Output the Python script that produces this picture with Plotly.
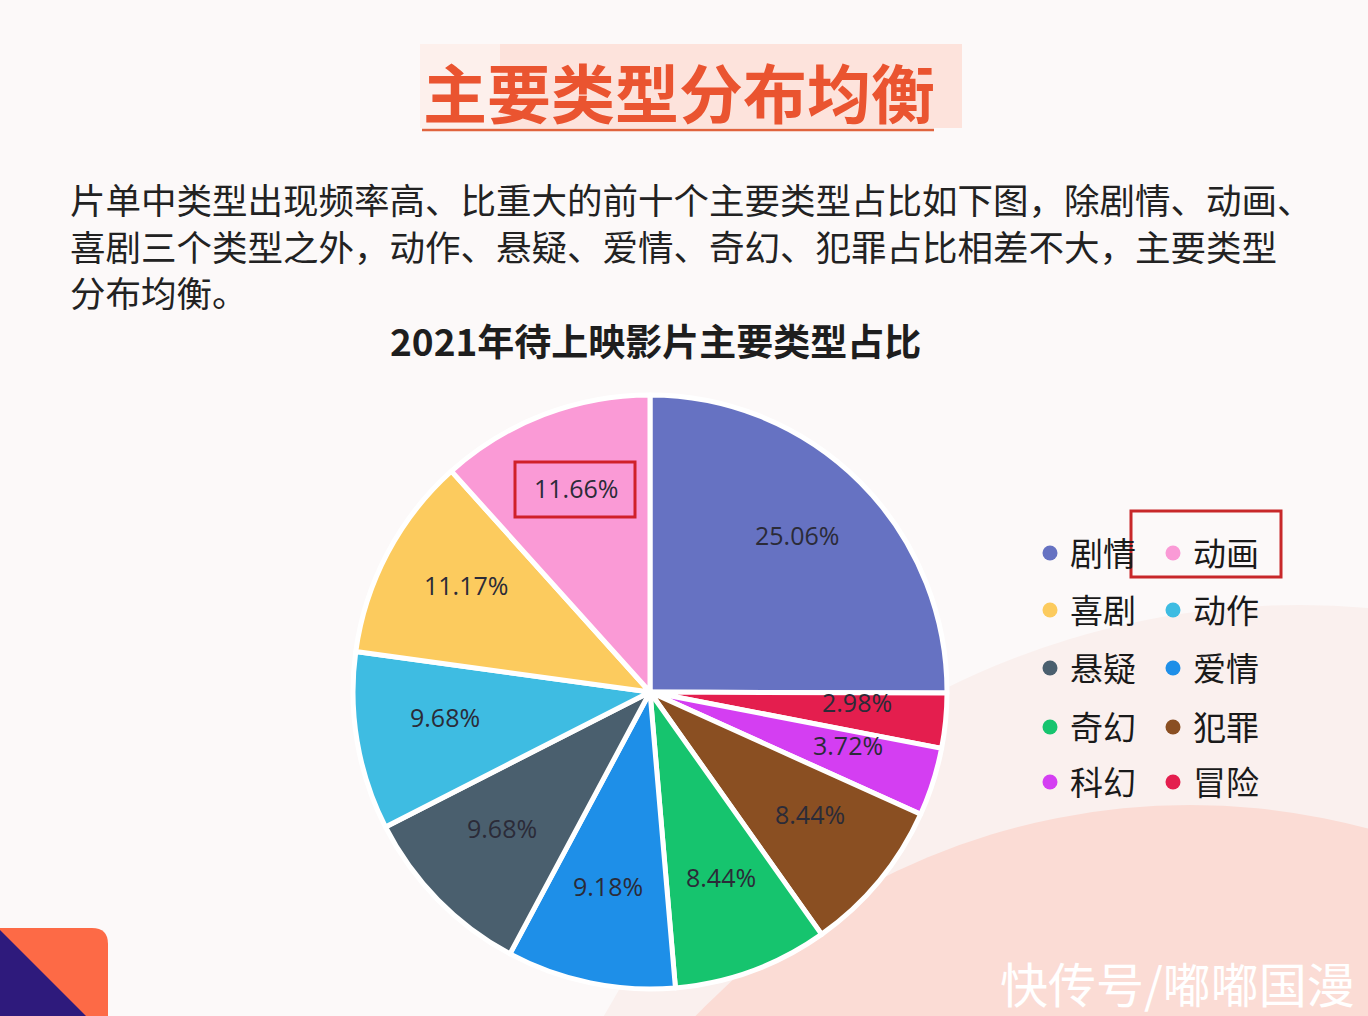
import math
import plotly.graph_objects as go

W, H = 1368, 1016

genres = ["剧情", "动画", "喜剧", "动作", "悬疑", "爱情", "奇幻", "犯罪", "科幻", "冒险"]
shares = [25.06, 11.66, 11.17, 9.68, 9.68, 9.18, 8.44, 8.44, 3.72, 2.98]
colors = ["#6672c2", "#fa9ad6", "#fccb5e", "#3ebce2", "#4a5f6e",
          "#1e8fe8", "#16c46e", "#8a4f22", "#d43ef2", "#e41e4e"]

heading = "主要类型分布均衡"
para_lines = [
    "片单中类型出现频率高、比重大的前十个主要类型占比如下图，除剧情、动画、",
    "喜剧三个类型之外，动作、悬疑、爱情、奇幻、犯罪占比相差不大，主要类型",
    "分布均衡。",
]
chart_title = "2021年待上映影片主要类型占比"
watermark = "快传号/嘟嘟国漫"

CJK = "Noto Sans CJK SC"


def px(x):
    return x / W


def py(y):
    return 1 - y / H


fig = go.Figure()

# pie drawn clockwise from 12 o'clock: 剧情 first, then the rest in reverse legend order
order = [0] + list(range(len(genres) - 1, 0, -1))
p_labels = [genres[i] for i in order]
p_values = [shares[i] for i in order]
p_colors = [colors[i] for i in order]

cx, cy, r = 650, 692, 297
fig.add_trace(go.Pie(
    labels=p_labels, values=p_values, sort=False, direction="clockwise",
    rotation=0, showlegend=False, textinfo="none",
    marker=dict(colors=p_colors, line=dict(color="#ffffff", width=5)),
    domain=dict(x=[px(cx - r), px(cx + r)], y=[py(cy + r), py(cy - r)]),
    hoverinfo="label+percent",
))

# percentage labels placed at slice mid-angles computed from the data
annotations = []
total = sum(p_values)
cum = 0.0
for v in p_values:
    mid = (cum + v / 2) / total * 2 * math.pi
    cum += v
    lx = cx + 0.70 * r * math.sin(mid)
    ly = cy - 10 - 0.70 * r * math.cos(mid)
    annotations.append(dict(
        text=f"{v:.2f}%", x=px(lx), y=py(ly), xref="paper", yref="paper",
        showarrow=False, xanchor="center", yanchor="middle",
        font=dict(family="Open Sans, " + CJK, size=25, color="#2b2b38")))

# legend: one legend per row, two entries each
legend_rows_y = [553, 610, 668, 727, 782]
for i, (g, c) in enumerate(zip(genres, colors)):
    row = i // 2
    lname = "legend" if row == 0 else f"legend{row + 1}"
    fig.add_trace(go.Scatter(
        x=[None], y=[None], mode="markers", name=g,
        marker=dict(color=c, size=15, symbol="circle"),
        legend=lname, showlegend=True, hoverinfo="skip",
    ))

legend_common = dict(
    orientation="h", entrywidth=78, entrywidthmode="pixels",
    xanchor="left", yanchor="middle", bgcolor="rgba(0,0,0,0)",
    font=dict(family=CJK, size=33, color="#1a1a1a"),
    itemclick=False, itemdoubleclick=False,
)
legends = {}
for row, yy in enumerate(legend_rows_y):
    key = "legend" if row == 0 else f"legend{row + 1}"
    legends[key] = dict(legend_common, x=px(1030), y=py(yy))

shapes = [
    # background arcs lower right
    dict(type="circle", xref="paper", yref="paper", layer="below",
         x0=px(1300 - 795), x1=px(1300 + 795), y0=py(1400 + 795), y1=py(1400 - 795),
         fillcolor="#faf0ee", line=dict(width=0)),
    dict(type="circle", xref="paper", yref="paper", layer="below",
         x0=px(1190 - 685), x1=px(1190 + 685), y0=py(1490 + 685), y1=py(1490 - 685),
         fillcolor="#fbdcd5", line=dict(width=0)),
    # heading highlight
    dict(type="rect", xref="paper", yref="paper", layer="below",
         x0=px(500), x1=px(962), y0=py(128), y1=py(44),
         fillcolor="#fde3dc", line=dict(width=0)),
    dict(type="rect", xref="paper", yref="paper", layer="below",
         x0=px(420), x1=px(500), y0=py(128), y1=py(44),
         fillcolor="#fdf0ec", line=dict(width=0)),
    # heading underline
    dict(type="line", xref="paper", yref="paper",
         x0=px(422), x1=px(934), y0=py(130), y1=py(130),
         line=dict(color="#e0643e", width=2.5)),
    # red highlight boxes
    dict(type="rect", xref="paper", yref="paper",
         x0=px(515), x1=px(635), y0=py(517), y1=py(462),
         line=dict(color="#d0202a", width=3)),
    dict(type="rect", xref="paper", yref="paper",
         x0=px(1131), x1=px(1281), y0=py(577), y1=py(511),
         line=dict(color="#c8282a", width=3)),
    # bottom-left decoration
    dict(type="path", xref="paper", yref="paper",
         path=f"M {px(0)} {py(928)} L {px(92)} {py(928)} Q {px(108)} {py(928)} {px(108)} {py(944)} "
              f"L {px(108)} {py(1016)} L {px(0)} {py(1016)} Z",
         fillcolor="#fd6a46", line=dict(width=0)),
    dict(type="path", xref="paper", yref="paper",
         path=f"M {px(0)} {py(930)} L {px(86)} {py(1016)} L {px(0)} {py(1016)} Z",
         fillcolor="#2e1a7c", line=dict(width=0)),
]

annotations += [
    dict(text=f"<b>{heading}</b>", x=px(679), y=py(90), xref="paper", yref="paper",
         showarrow=False, xanchor="center", yanchor="middle",
         font=dict(family=CJK, size=64, color="#ea5430")),
    dict(text=f"<b>{chart_title}</b>", x=px(655), y=py(340), xref="paper", yref="paper",
         showarrow=False, xanchor="center", yanchor="middle",
         font=dict(family=CJK, size=37, color="#1e1e1e")),
    dict(text=watermark, x=px(1356), y=py(982), xref="paper", yref="paper",
         showarrow=False, xanchor="right", yanchor="middle", borderpad=0,
         font=dict(family=CJK, size=48, color="#ffffff")),
]
for i, line in enumerate(para_lines):
    annotations.append(dict(
        text=line, x=px(68), y=py(198 + 47 * i), xref="paper", yref="paper",
        showarrow=False, xanchor="left", yanchor="middle",
        font=dict(family=CJK, size=35.5, color="#222222")))

fig.update_layout(
    width=W, height=H, margin=dict(l=0, r=0, t=0, b=0),
    paper_bgcolor="#fcf9f9", plot_bgcolor="rgba(0,0,0,0)",
    xaxis=dict(visible=False, domain=[0.95, 1]), yaxis=dict(visible=False, domain=[0.95, 1]),
    shapes=shapes, annotations=annotations, **legends,
)

fig.write_html("out.html")
